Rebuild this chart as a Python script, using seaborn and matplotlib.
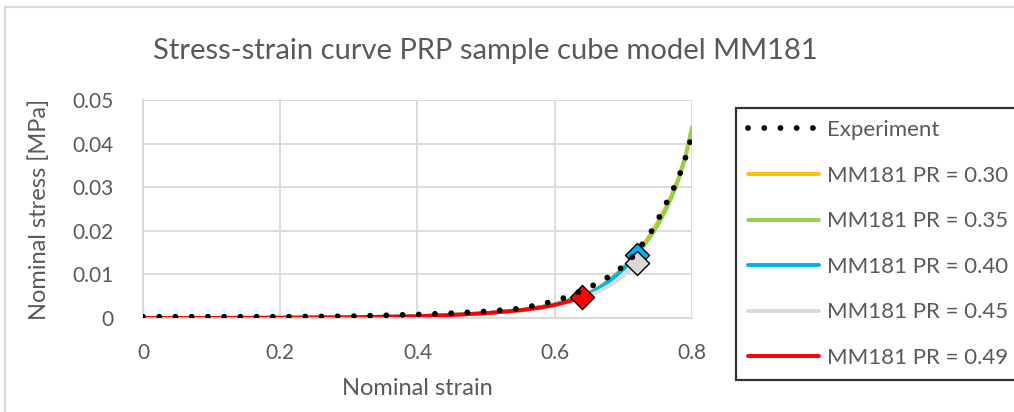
import numpy as np
import pandas as pd
import seaborn as sns
import matplotlib
matplotlib.use("Agg")
import matplotlib.pyplot as plt
from matplotlib.patches import Rectangle

# ---------------- data ----------------
exp_strain = [0.0, 0.1, 0.2, 0.3, 0.4, 0.45, 0.5, 0.54, 0.58, 0.61, 0.63, 0.65,
              0.67, 0.69, 0.71, 0.72, 0.735, 0.747, 0.757, 0.768, 0.778, 0.786,
              0.793, 0.80]
exp_stress = [0.0003, 0.0003, 0.0003, 0.0004, 0.0008, 0.0011, 0.0015, 0.0020,
              0.0031, 0.0044, 0.0056, 0.0070, 0.0086, 0.0106, 0.0133, 0.0155,
              0.0183, 0.0215, 0.0246, 0.0280, 0.0313, 0.0345, 0.0380, 0.0420]

model_strain = [0.0, 0.1, 0.2, 0.3, 0.4, 0.45, 0.5, 0.55, 0.58, 0.6, 0.62, 0.64,
                0.65, 0.66, 0.67, 0.68, 0.69, 0.70, 0.71, 0.72, 0.73, 0.74,
                0.75, 0.76, 0.77, 0.78, 0.79, 0.80]

pr030_stress = [0.0, 0.00001, 0.00005, 0.00015, 0.0004, 0.0007, 0.0011, 0.0018,
                0.0025, 0.0031, 0.0040, 0.0050, 0.0057, 0.0066, 0.0076, 0.0088,
                0.0101, 0.0116, 0.0132, 0.0150, 0.0170, 0.0193, 0.0219, 0.0248,
                0.0281, 0.0320, 0.0366, 0.0430]
pr035_stress = [0.0, 0.00001, 0.00005, 0.00015, 0.0004, 0.0007, 0.0011, 0.0018,
                0.0025, 0.0031, 0.0040, 0.0050, 0.0057, 0.0065, 0.0075, 0.0086,
                0.0099, 0.0114, 0.0130, 0.0147, 0.0166, 0.0188, 0.0213, 0.0242,
                0.0276, 0.0316, 0.0368, 0.0438]
pr040_stress = [0.0, 0.00001, 0.00005, 0.00015, 0.0004, 0.0007, 0.0011, 0.0018,
                0.0025, 0.0031, 0.0040, 0.0050, 0.0056, 0.0064, 0.0074, 0.0085,
                0.0098, 0.0112, 0.0128, 0.0145]
pr045_stress = [0.0, 0.00001, 0.00005, 0.00015, 0.0004, 0.0007, 0.0011, 0.0018,
                0.0024, 0.0030, 0.0038, 0.0047, 0.0052, 0.0058, 0.0066, 0.0075,
                0.0085, 0.0097, 0.0111, 0.0127]
pr049_stress = [0.0, 0.00001, 0.00005, 0.00015, 0.0004, 0.0007, 0.0011, 0.0018,
                0.0024, 0.0030, 0.0038, 0.0048]

series_labels = ["MM181 PR = 0.30", "MM181 PR = 0.35", "MM181 PR = 0.40",
                 "MM181 PR = 0.45", "MM181 PR = 0.49"]
series_stress = [pr030_stress, pr035_stress, pr040_stress, pr045_stress, pr049_stress]
series_colors = ["#FFC000", "#92D050", "#00B0F0", "#D9D9D9", "#FF0000"]
series_endmarker = [False, False, True, True, True]

x_ticks = [0, 0.2, 0.4, 0.6, 0.8]
x_ticklabels = ["0", "0.2", "0.4", "0.6", "0.8"]
y_ticks = [0, 0.01, 0.02, 0.03, 0.04, 0.05]
y_ticklabels = ["0", "0.01", "0.02", "0.03", "0.04", "0.05"]

title = "Stress-strain curve PRP sample cube model MM181"
xlabel = "Nominal strain"
ylabel = "Nominal stress [MPa]"

# ---------------- style ----------------
sns.set_theme(style="white")
FONT = ["Lato", "DejaVu Sans"]
plt.rcParams["font.family"] = FONT
TXT = "#595959"
GRID = "#D9D9D9"

W, H = 1014, 412
fig = plt.figure(figsize=(W / 100, H / 100), dpi=100)
ax = fig.add_axes([143 / W, 1 - 318 / H, (692 - 143) / W, (318 - 100) / H])

# chart-area border
fig.patches.append(Rectangle((5 / W, -0.1), 1.2, 1 - 7 / H + 0.1,
                             transform=fig.transFigure, fill=False,
                             edgecolor=GRID, linewidth=1.5, zorder=0))

# experiment (dotted)
exp_df = pd.DataFrame({"strain": exp_strain, "stress": exp_stress})
sns.lineplot(data=exp_df, x="strain", y="stress", ax=ax, color="black",
             linewidth=4.2, linestyle=(0, (0.001, 2.78)),
             dash_capstyle="round", label="Experiment", zorder=10)

for lab, st, col, mk in zip(series_labels, series_stress, series_colors,
                            series_endmarker):
    df = pd.DataFrame({"strain": model_strain[:len(st)], "stress": st})
    sns.lineplot(data=df, x="strain", y="stress", ax=ax, color=col,
                 linewidth=2.8, label=lab, solid_capstyle="round")
    if mk:
        sns.scatterplot(x=[df["strain"].iloc[-1]], y=[df["stress"].iloc[-1]],
                        ax=ax, marker="D", s=150, color=col,
                        edgecolor="black", linewidth=1, zorder=5,
                        legend=False)

ax.set_xlim(0, 0.8)
ax.set_ylim(0, 0.05)
ax.set_xticks(x_ticks)
ax.set_xticklabels(x_ticklabels)
ax.set_yticks(y_ticks)
ax.set_yticklabels(y_ticklabels)
ax.tick_params(axis="both", length=0, labelsize=15, colors=TXT)
ax.tick_params(axis="x", pad=18)
ax.tick_params(axis="y", pad=21)
ax.grid(True, color=GRID, linewidth=1.3)
ax.set_axisbelow(True)
for s in ["top", "right"]:
    ax.spines[s].set_visible(False)
for s in ["left", "bottom"]:
    ax.spines[s].set_color(GRID)
    ax.spines[s].set_linewidth(1.3)

ax.set_xlabel(xlabel, fontsize=17, color=TXT, labelpad=11)
ax.set_ylabel(ylabel, fontsize=17, color=TXT, labelpad=16)
fig.text(485 / W, 1 - 51 / H, title, fontsize=21, color=TXT,
         ha="center", va="center")

leg = ax.legend(loc="upper left", bbox_to_anchor=(736 / W, 1 - 108 / H),
                bbox_transform=fig.transFigure, frameon=True, fancybox=False,
                fontsize=16, labelcolor=TXT, handlelength=3.2,
                handletextpad=0.35, labelspacing=1.15, borderpad=0.55,
                borderaxespad=0)
leg.get_frame().set_edgecolor("black")
leg.get_frame().set_linewidth(1.6)

fig.savefig("out.png", dpi=100)
